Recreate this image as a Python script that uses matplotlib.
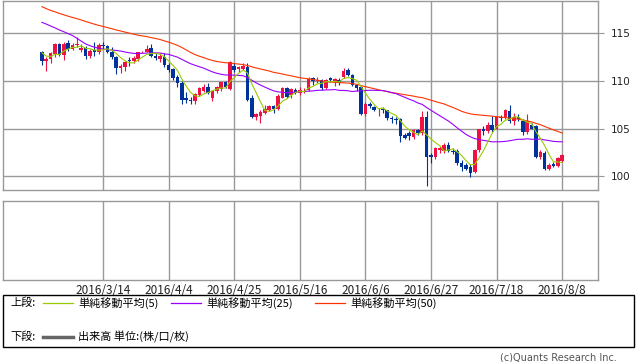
import numpy as np
import pandas as pd
import matplotlib
matplotlib.use('Agg')
import matplotlib.pyplot as plt
from matplotlib.patches import Rectangle
from matplotlib.lines import Line2D

plt.rcParams['font.family'] = ['Noto Sans CJK JP', 'DejaVu Sans']

# closes before the first visible candle (2015/12/14 - 2016/2/22), only feed the moving averages
pre_close = [120.6, 121.6, 122.2, 122.6, 121.2, 121.1, 121.1, 120.9, 120.3, 120.3,
             120.4, 120.5, 120.3, 120.2,
             120.2, 119.3, 119.0, 118.5, 117.7, 117.2, 117.7, 117.7, 118.1, 118.0,
             117.0, 117.3, 117.7, 116.9, 117.9, 118.8, 118.3, 118.4, 118.6, 118.8, 121.1,
             121.0, 119.9, 117.9, 116.8, 116.9, 115.6, 115.0, 113.3, 112.4, 113.2,
             114.6, 114.1, 114.0, 113.2, 112.6, 112.9]

# daily candles 2016/2/23 - 2016/8/8
open_ = [113.0, 112.1, 112.3, 112.8, 113.9, 112.7, 114.0, 113.4, 113.8, 113.3,
         113.5, 112.6, 113.3, 113.1, 113.8, 113.7, 113.1, 112.5, 111.4, 111.5,
         112.2, 112.1, 112.3, 113.0, 113.1, 113.5, 112.6, 112.3, 112.5, 111.7,
         111.3, 110.4, 109.8, 108.2, 108.0, 107.9, 108.5, 108.9, 109.4, 108.2,
         108.9, 109.2, 109.9, 109.2, 111.6, 111.3, 111.3, 111.5, 108.2, 106.25,
         106.35, 106.6, 106.95, 107.4, 107.1, 108.25, 109.3, 108.5, 109.1, 108.7,
         109.0, 109.1, 110.3, 110.0, 110.1, 109.3, 110.3, 109.9, 110.1, 110.4,
         111.2, 110.6, 109.6, 109.4, 106.5, 107.6, 107.3, 106.9, 107.1, 106.9,
         106.1, 106.0, 106.0, 104.3, 104.5, 104.1, 104.8, 104.5, 106.2, 102.2,
         102.0, 102.7, 102.6, 103.3, 102.6, 102.6, 101.4, 101.2, 101.0, 100.4,
         102.7, 105.0, 104.7, 105.4, 105.0, 106.2, 106.2, 106.8, 105.8, 106.2,
         105.8, 104.6, 105.4, 105.3, 102.0, 102.4, 100.7, 101.3, 101.1, 101.6]
high = [113.2, 112.5, 113.1, 114.0, 114.0, 114.1, 114.3, 114.0, 114.6, 113.9,
        113.7, 113.4, 114.1, 114.0, 114.1, 113.8, 113.6, 112.6, 111.8, 112.1,
        112.5, 112.6, 113.1, 113.2, 113.8, 113.9, 112.9, 112.9, 112.9, 111.9,
        111.4, 110.6, 110.0, 108.8, 108.3, 108.7, 109.4, 109.7, 109.8, 109.0,
        109.5, 109.9, 110.0, 112.1, 111.9, 111.6, 111.9, 111.9, 108.5, 106.6,
        106.9, 107.5, 107.5, 107.5, 108.6, 109.4, 109.4, 109.3, 109.3, 109.4,
        109.3, 110.4, 110.4, 110.4, 110.2, 110.2, 110.4, 110.3, 110.3, 111.4,
        111.4, 110.7, 109.7, 109.5, 107.8, 107.8, 107.4, 107.2, 107.3, 107.0,
        106.3, 106.2, 106.1, 104.5, 104.7, 104.9, 105.0, 106.8, 106.8, 102.4,
        103.1, 103.2, 103.5, 103.6, 102.9, 102.8, 101.7, 101.4, 101.3, 102.8,
        105.0, 105.3, 105.7, 106.3, 106.3, 106.4, 107.1, 107.5, 106.6, 106.5,
        106.0, 106.5, 105.6, 105.4, 102.7, 102.6, 101.4, 101.5, 102.0, 102.3]
low = [111.7, 111.0, 111.9, 112.5, 112.6, 112.2, 113.2, 113.3, 113.6, 113.1,
       112.3, 112.4, 112.6, 112.8, 113.4, 112.9, 112.3, 110.7, 110.8, 111.0,
       111.6, 111.9, 112.1, 112.9, 113.0, 112.5, 112.2, 112.0, 111.5, 110.9,
       110.1, 109.4, 107.6, 107.7, 107.6, 107.6, 108.4, 108.8, 108.6, 107.9,
       108.7, 108.9, 109.3, 109.1, 110.9, 110.9, 111.2, 107.9, 106.1, 105.9,
       105.55, 106.5, 106.8, 106.6, 107.0, 108.2, 108.2, 108.2, 108.6, 108.5,
       108.7, 108.9, 109.6, 109.8, 109.1, 109.2, 109.9, 109.5, 109.6, 110.3,
       110.5, 109.5, 108.9, 106.4, 106.3, 107.2, 106.8, 106.3, 106.6, 105.9,
       105.6, 105.5, 103.6, 103.9, 103.8, 103.9, 104.3, 104.3, 99.0, 101.4,
       101.8, 102.4, 102.4, 102.5, 102.3, 101.2, 100.5, 100.6, 99.9, 100.3,
       102.5, 104.3, 104.5, 104.6, 104.9, 105.8, 106.0, 105.6, 105.4, 105.8,
       104.3, 104.4, 104.9, 101.9, 101.8, 100.6, 100.6, 100.9, 100.9, 101.5]
close = [112.1, 112.3, 112.9, 113.9, 112.7, 113.9, 113.4, 113.8, 113.9, 113.5,
         112.6, 113.2, 113.1, 113.8, 113.7, 113.1, 112.5, 111.4, 111.6, 112.0,
         112.1, 112.4, 113.0, 113.1, 113.4, 112.6, 112.4, 112.6, 111.7, 111.2,
         110.3, 109.8, 108.0, 108.0, 107.9, 108.6, 109.3, 109.4, 108.7, 108.9,
         109.4, 109.9, 109.4, 112.0, 111.2, 111.5, 111.6, 108.0, 106.25, 106.5,
         106.7, 107.1, 107.4, 107.1, 108.45, 109.3, 108.3, 109.2, 108.7, 109.1,
         109.1, 110.2, 110.0, 110.1, 109.3, 110.1, 110.1, 110.2, 109.8, 111.1,
         110.6, 109.6, 109.3, 106.5, 107.6, 107.4, 106.9, 107.0, 106.9, 106.1,
         106.0, 105.9, 104.2, 104.0, 104.2, 104.8, 104.5, 106.2, 102.0, 102.0,
         102.9, 102.9, 103.3, 102.6, 102.5, 101.4, 101.0, 100.7, 100.3, 102.7,
         104.9, 104.7, 105.4, 104.8, 106.2, 106.1, 106.9, 105.8, 106.2, 106.0,
         104.6, 105.8, 105.0, 102.0, 102.5, 100.7, 101.2, 101.1, 101.9, 102.2]

tick_pos = [14, 29, 44, 59, 74, 89, 104, 119]
tick_labels = ['2016/3/14', '2016/4/4', '2016/4/25', '2016/5/16',
               '2016/6/6', '2016/6/27', '2016/7/18', '2016/8/8']
price_ticks = [100, 105, 110, 115]

RED = '#ee1144'
BLUE = '#003399'
GRID = '#999999'

all_close = pd.Series(pre_close + close)
n_pre = len(pre_close)
ma5 = all_close.rolling(5).mean().iloc[n_pre:].values
ma25 = all_close.rolling(25).mean().iloc[n_pre:].values
ma50 = all_close.rolling(50).mean().iloc[n_pre:].values

W, H = 638, 362
fig = plt.figure(figsize=(W / 100, H / 100), dpi=100)


def box(left, top, right, bottom):
    return [left / W, 1 - bottom / H, (right - left) / W, (bottom - top) / H]


ax = fig.add_axes(box(3, 0.5, 598, 190))
axv = fig.add_axes(box(3, 201, 598, 280))

x = np.arange(len(close))
o = np.array(open_)
c = np.array(close)
colors = np.where(c >= o, RED, BLUE)
ax.vlines(x, low, high, colors=colors, lw=0.8, zorder=3)
body = np.maximum(np.abs(c - o), 0.07)
ax.bar(x, body, bottom=np.minimum(o, c), width=0.82, color=colors, lw=0, zorder=4)

ax.plot(x, ma50, color='#ff3300', lw=0.8, zorder=5)
ax.plot(x, ma25, color='#9900ff', lw=0.8, zorder=5)
ax.plot(x, ma5, color='#99cc00', lw=0.8, zorder=6)

for a in (ax, axv):
    a.set_xlim(-8.9, 127.2)
    a.set_xticks(tick_pos)
    a.grid(True, axis='x', color=GRID, lw=1.0)
    for s in a.spines.values():
        s.set_color(GRID)
        s.set_linewidth(1.0)
    a.set_axisbelow(True)

ax.set_ylim(98.53, 118.47)
ax.set_yticks(price_ticks)
ax.grid(True, axis='y', color=GRID, lw=1.0)
ax.yaxis.tick_right()
ax.tick_params(axis='y', length=4, color=GRID, pad=5, labelsize=7.5, labelcolor='#222222')
for lab in ax.get_yticklabels():
    lab.set_fontfamily('DejaVu Sans')
ax.tick_params(axis='x', length=0, labelbottom=False)

axv.set_yticks([])
axv.set_xticklabels(tick_labels)
axv.tick_params(axis='x', length=0, pad=3, labelsize=8.5, labelcolor='#222222')

# legend box below the panels
fig.add_artist(Rectangle((3 / W, 1 - 347 / H), 631 / W, 52 / H,
                         transform=fig.transFigure, fill=False, ec='black', lw=1.0))


def fx(px):
    return px / W


def fy(py):
    return 1 - py / H


fs = 8
fig.text(fx(10), fy(303), '上段:', fontsize=fs, va='center')
fig.text(fx(10), fy(337), '下段:', fontsize=fs, va='center')
legend_items = [(43, '#99cc00', '単純移動平均(5)'),
                (171, '#9900ff', '単純移動平均(25)'),
                (315, '#ff3300', '単純移動平均(50)')]
for x0, col, label in legend_items:
    fig.add_artist(Line2D([fx(x0), fx(x0 + 30)], [fy(303), fy(303)], color=col, lw=0.9))
    fig.text(fx(x0 + 35), fy(303), label, fontsize=fs, va='center')
fig.add_artist(Line2D([fx(43), fx(73)], [fy(337), fy(337)], color='#666666', lw=2.5))
fig.text(fx(78), fy(337), '出来高 単位:(株/口/枚)', fontsize=fs, va='center')

fig.text(fx(617), fy(357), '(c)Quants Research Inc.', fontsize=7, color='#555555',
         ha='right', va='center', family='DejaVu Sans')

fig.savefig('out.png', dpi=100)
